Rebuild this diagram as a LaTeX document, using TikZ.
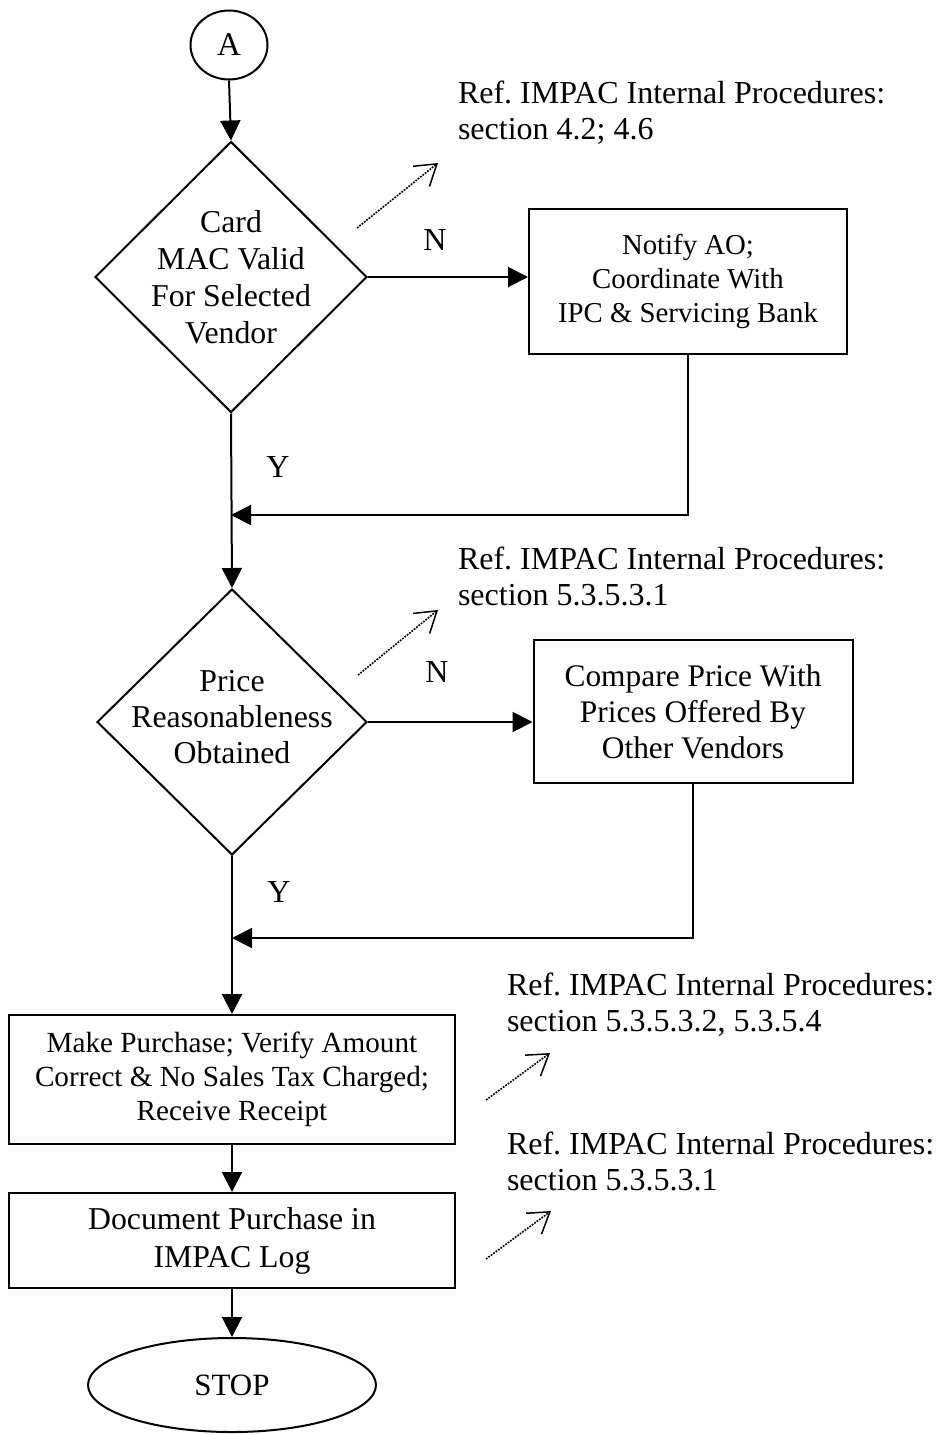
\documentclass[tikz,border=0pt]{standalone}
\usepackage{fontspec}
\setmainfont{Liberation Serif}
\usetikzlibrary{shapes.geometric,arrows.meta}
\frenchspacing
\begin{document}
\begin{tikzpicture}[x=0.5pt,y=-0.5pt,line width=1pt,
  arr/.style={-{Triangle[length=10pt,width=10pt]}},
  refarr/.style={dash pattern=on 0.9pt off 0.6pt,line width=0.8pt,-{Straight Barb[length=10pt,width=13pt,line width=0.75pt]}},
  boxstyle/.style={draw,rectangle,align=center,inner sep=0pt},
  dia/.style={draw,diamond,inner sep=0pt},
  oval/.style={draw,ellipse,inner sep=0pt},
  dtext/.style={align=center,inner sep=0pt,font=\fontsize{15.9}{18.5}\selectfont},
  lab/.style={inner sep=0pt,font=\fontsize{16}{18}\selectfont},
  reftxt/.style={align=left,inner sep=0pt,anchor=base west,font=\fontsize{16}{18}\selectfont}]
\useasboundingbox (0,0) rectangle (938,1434);
% start
\node[oval,minimum width=38.5pt,minimum height=34.5pt,font=\fontsize{16.5}{18}\selectfont] (A) at (229,45) {A};
% decision 1
\node[dia,minimum width=136pt,minimum height=135.5pt] (d1) at (231,277) {};
\node[dtext] (d1t) at (d1) {Card\\MAC Valid\\For Selected\\Vendor};
% notify box
\node[boxstyle,minimum width=159pt,minimum height=72.5pt,font=\fontsize{14.4}{17}\selectfont] (b1) at (688,281) {Notify AO;\\Coordinate With\\IPC \& Servicing Bank};
% decision 2
\node[dia,minimum width=135pt,minimum height=133pt] (d2) at (232,722) {};
\node[dtext,font=\fontsize{15.9}{18}\selectfont] (d2t) at (232,717) {Price\\Reasonableness\\Obtained};
% compare box
\node[boxstyle,minimum width=159.5pt,minimum height=71.5pt,font=\fontsize{15.7}{18}\selectfont] (b2) at (693,711.5) {Compare Price With\\Prices Offered By\\Other Vendors};
% make purchase
\node[boxstyle,minimum width=223pt,minimum height=64.5pt,font=\fontsize{14.6}{17}\selectfont] (mk) at (232,1079.5) {Make Purchase; Verify Amount\\Correct \& No Sales Tax Charged;\\Receive Receipt};
% document
\node[boxstyle,minimum width=223pt,minimum height=47.5pt,font=\fontsize{15.9}{19}\selectfont] (doc) at (232,1240.5) {Document Purchase in\\IMPAC Log};
% stop
\node[oval,minimum width=144pt,minimum height=47pt,font=\fontsize{15.5}{17}\selectfont] (stop) at (232,1385) {STOP};
% junctions
\coordinate (j1) at (231,515);
\coordinate (j2) at (232,938);
% connectors
\draw[arr] (A.south) -- (d1.north);
\draw[arr] (d1.east) -- (d1.east -| b1.west);
\draw[arr] (d1.south) -- (d2.north);
\draw[arr] (b1.south) |- (j1);
\draw[arr] (d2.east) -- (d2.east -| b2.west);
\draw[arr] (b2.south) |- (j2);
\draw[arr] (d2.south) -- (mk.north);
\draw[arr] (mk.south) -- (doc.north);
\draw[arr] (doc.south) -- (stop.north);
% labels
\node[lab] (n1) at (435,240) {N};
\node[lab] (y1) at (278,467) {Y};
\node[lab] (n2) at (437,672) {N};
\node[lab] (y2) at (279,892) {Y};
% references (anchor = baseline of last line)
\node[reftxt] (r1) at (457,140) {Ref. IMPAC Internal Procedures:\\section 4.2; 4.6};
\node[reftxt] (r2) at (457,605) {Ref. IMPAC Internal Procedures:\\section 5.3.5.3.1};
\node[reftxt] (r3) at (506,1031) {Ref. IMPAC Internal Procedures:\\section 5.3.5.3.2, 5.3.5.4};
\node[reftxt] (r4) at (506,1190) {Ref. IMPAC Internal Procedures:\\section 5.3.5.3.1};
% dotted reference arrows
\coordinate (p1s) at (357,228); \coordinate (p1e) at (438,163);
\coordinate (p2s) at (358,675); \coordinate (p2e) at (438,610);
\coordinate (p3s) at (486,1100); \coordinate (p3e) at (550,1053);
\coordinate (p4s) at (486,1259); \coordinate (p4e) at (551,1211);
\draw[refarr] (p1s) -- (p1e);
\draw[refarr] (p2s) -- (p2e);
\draw[refarr] (p3s) -- (p3e);
\draw[refarr] (p4s) -- (p4e);
\end{tikzpicture}
\end{document}
